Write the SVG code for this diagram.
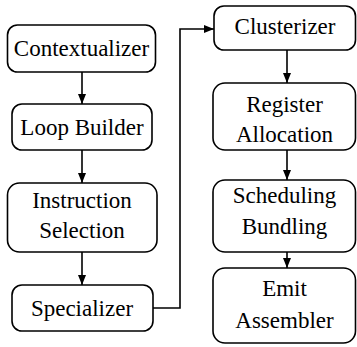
<svg xmlns="http://www.w3.org/2000/svg" width="357" height="347" viewBox="0 0 357 347">
<style>
.box{fill:#fff;stroke:#000;stroke-width:1.6}
.c{fill:none;stroke:#000;stroke-width:1.6}
</style>
<defs>
<marker id="ah" markerWidth="10" markerHeight="10" viewBox="0 0 10 10" refX="10" refY="5" orient="auto" markerUnits="userSpaceOnUse">
<path d="M0,1 L10,5 L0,9 z" fill="#000"/>
</marker>
</defs>
<g id="connectors">
<line class="c" x1="82" y1="72" x2="82" y2="104" marker-end="url(#ah)"/>
<line class="c" x1="82" y1="150" x2="82" y2="183" marker-end="url(#ah)"/>
<line class="c" x1="82" y1="252" x2="82" y2="285" marker-end="url(#ah)"/>
<polyline class="c" points="153,308 180,308 180,29 214,29" marker-end="url(#ah)"/>
<line class="c" x1="287" y1="50" x2="287" y2="83" marker-end="url(#ah)"/>
<line class="c" x1="287" y1="150" x2="287" y2="180" marker-end="url(#ah)"/>
<line class="c" x1="287" y1="252" x2="287" y2="268" marker-end="url(#ah)"/>
</g>
<g font-family="Liberation Serif, DejaVu Serif, serif" font-size="23" fill="#000" text-anchor="middle">
<g id="contextualizer">
<rect class="box" x="7.5" y="25" width="148" height="47" rx="10"/>
<text x="81.5" y="56">Contextualizer</text>
</g>
<g id="loop-builder">
<rect class="box" x="12" y="104" width="140" height="46" rx="10"/>
<text x="82" y="135">Loop Builder</text>
</g>
<g id="instruction-selection">
<rect class="box" x="7.5" y="183" width="149.5" height="69" rx="12"/>
<text x="82" y="208">Instruction</text>
<text x="82" y="238">Selection</text>
</g>
<g id="specializer">
<rect class="box" x="12" y="285" width="141" height="46" rx="10"/>
<text x="82" y="316">Specializer</text>
</g>
<g id="clusterizer">
<rect class="box" x="214" y="6" width="141.5" height="44" rx="10"/>
<text x="285" y="34">Clusterizer</text>
</g>
<g id="register-allocation">
<rect class="box" x="213" y="83" width="142.5" height="67" rx="12"/>
<text x="284.5" y="112">Register</text>
<text x="284.5" y="142">Allocation</text>
</g>
<g id="scheduling-bundling">
<rect class="box" x="213" y="180" width="142.5" height="72" rx="12"/>
<text x="284.5" y="203">Scheduling</text>
<text x="284.5" y="234">Bundling</text>
</g>
<g id="emit-assembler">
<rect class="box" x="213" y="268" width="142.5" height="75" rx="12"/>
<text x="284.5" y="296">Emit</text>
<text x="284.5" y="328">Assembler</text>
</g>
</g>
</svg>
